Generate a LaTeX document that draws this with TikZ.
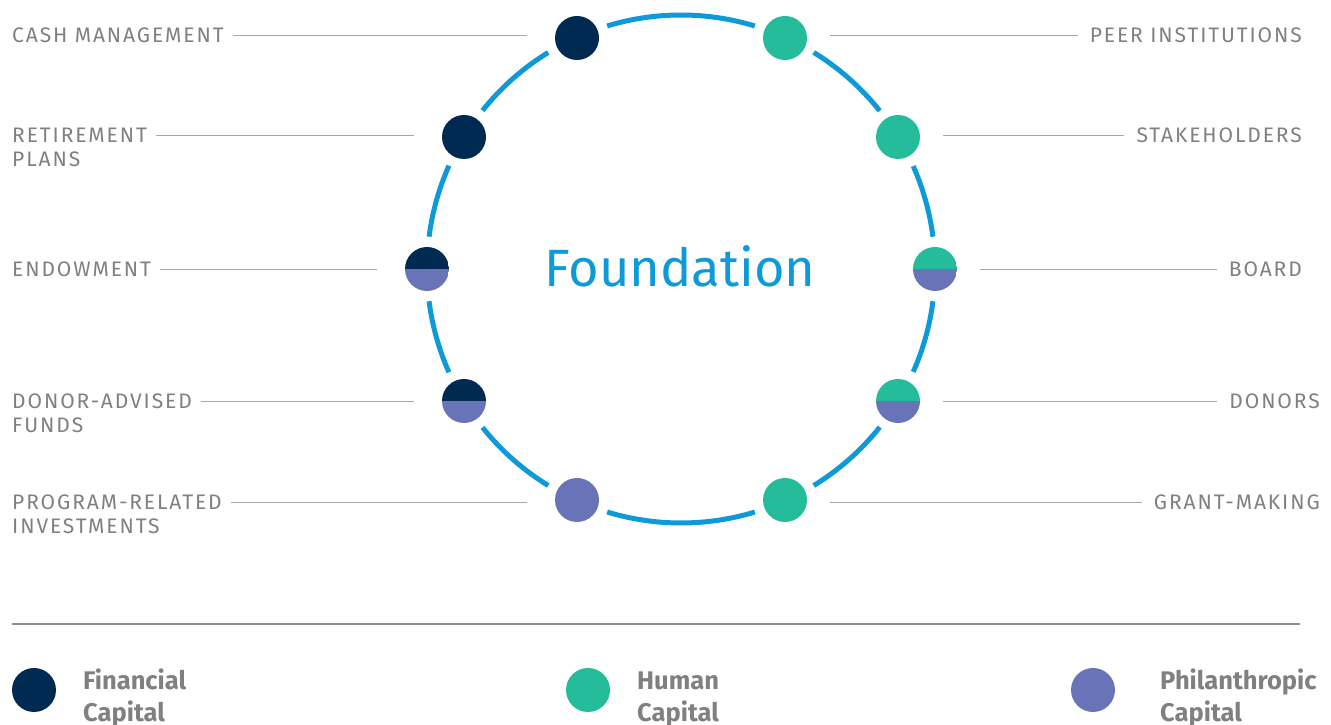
\documentclass[tikz,border=0pt]{standalone}
\usepackage{fontspec}
\setmainfont{Fira Sans}
\newfontfamily\labelfont[LetterSpace=9]{Fira Sans}
\usetikzlibrary{positioning, calc}
\definecolor{navyfin}{HTML}{002A52}
\definecolor{tealhum}{HTML}{24BC9A}
\definecolor{purplephil}{HTML}{6874B7}
\definecolor{ringblue}{HTML}{0E9AD8}
\definecolor{labelgray}{HTML}{808083}
\definecolor{rulegray}{HTML}{A6A6A6}

\begin{document}
\begin{tikzpicture}[x=1pt,y=1pt,
  dot/.style={circle,fill=#1,minimum size=44pt,inner sep=0pt},
  split/.style 2 args={circle,minimum size=44pt,inner sep=0pt,
    path picture={\fill[#1] (path picture bounding box.west) rectangle (path picture bounding box.north east);
      \fill[#2] (path picture bounding box.west) rectangle (path picture bounding box.south east);}},
  lbl/.style={text=labelgray,font=\labelfont\fontsize{21}{24}\selectfont,inner sep=0pt,align=#1},
  leader/.style={draw=rulegray,line width=1.2pt},
  ring/.style={draw=ringblue,line width=5pt},
  key/.style={text=labelgray,font=\bfseries\fontsize{25.5}{32}\selectfont,inner sep=0pt,align=left,anchor=north west}]
\useasboundingbox (0,0) rectangle (1331,725);
\coordinate (c) at (681,456);
\foreach \a/\b in {-65.8/-31.2,-31.2/0,0/31.2,31.2/65.8,65.8/114.2,114.2/148.7,148.7/180,180/211.3,211.3/245.8,245.8/294.2}
  \draw[ring] ($(c)+(\a+7.3:254)$) arc[start angle=\a+7.3,end angle=\b-7.3,radius=254];

\node[dot=navyfin] (cash) at (577,687) {};
\node[dot=navyfin] (retire) at (464,588) {};
\node[split={navyfin}{purplephil}] (endow) at (427,456) {};
\node[split={navyfin}{purplephil}] (daf) at (464,324) {};
\node[dot=purplephil] (pri) at (577,225) {};
\node[dot=tealhum] (peer) at (785,687) {};
\node[dot=tealhum] (stake) at (898,588) {};
\node[split={tealhum}{purplephil}] (board) at (935,456) {};
\node[split={tealhum}{purplephil}] (donors) at (898,324) {};
\node[dot=tealhum] (grant) at (785,225) {};

\node[text=ringblue,font=\fontsize{52.5}{56}\selectfont,anchor=base] (found) at (680,438) {Foundation};

\node[lbl=left,anchor=north west] (lcash) at (12,697) {CASH MANAGEMENT};
\node[lbl=left,anchor=north west] (lretire) at (12,597) {RETIREMENT\\PLANS};
\node[lbl=left,anchor=north west] (lendow) at (12,463) {ENDOWMENT};
\node[lbl=left,anchor=north west] (ldaf) at (12,331) {DONOR-ADVISED\\FUNDS};
\node[lbl=left,anchor=north west] (lpri) at (12,230) {PROGRAM-RELATED\\INVESTMENTS};
\node[lbl=right,anchor=north east] (lpeer) at (1302,697) {PEER INSTITUTIONS};
\node[lbl=right,anchor=north east] (lstake) at (1302,597) {STAKEHOLDERS};
\node[lbl=right,anchor=north east] (lboard) at (1302,463) {BOARD};
\node[lbl=right,anchor=north east] (ldonors) at (1320,331) {DONORS};
\node[lbl=right,anchor=north east] (lgrant) at (1320,230) {GRANT-MAKING};

\foreach \n in {cash,retire,endow,daf,pri}
  \draw[leader] ([xshift=9pt,yshift=-7.25pt]l\n.north east) -- ([xshift=-28pt,yshift=-7.25pt]l\n.north east -| \n.west);
\foreach \n in {peer,stake,board,donors,grant}
  \draw[leader] ([xshift=23pt,yshift=-7.25pt]l\n.north west -| \n.east) -- ([xshift=-12pt,yshift=-7.25pt]l\n.north west);

\draw[draw=labelgray!90,line width=1.2pt] (12,101) -- (1300,101);
\node[dot=navyfin] (kfin) at (34,35) {};
\node[dot=tealhum] (khum) at (588,35) {};
\node[dot=purplephil] (kphil) at (1093,35) {};
\node[key] (tfin) at (83,58.4) {\strut Financial\\Capital};
\node[key] (thum) at (637,58.4) {\strut Human\\Capital};
\node[key] (tphil) at (1160,58.4) {\strut Philanthropic\\Capital};
\end{tikzpicture}
\end{document}
